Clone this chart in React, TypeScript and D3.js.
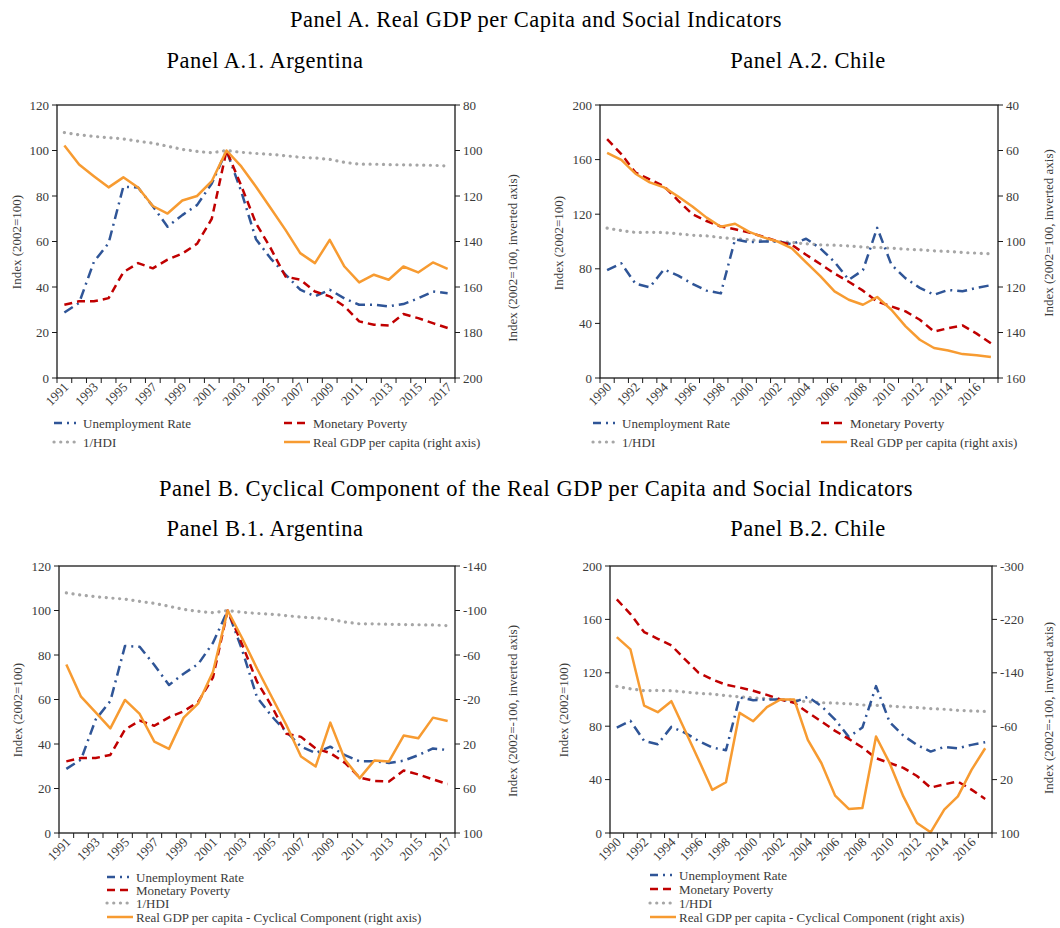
import React from "react";
import * as d3 from "d3";

// ---- data -------------------------------------------------------------
const YEARS_ARG = [
  1991, 1992, 1993, 1994, 1995, 1996, 1997, 1998, 1999, 2000, 2001, 2002, 2003, 2004,
  2005, 2006, 2007, 2008, 2009, 2010, 2011, 2012, 2013, 2014, 2015, 2016, 2017,
];
const YEARS_CHL = [
  1990, 1991, 1992, 1993, 1994, 1995, 1996, 1997, 1998, 1999, 2000, 2001, 2002, 2003,
  2004, 2005, 2006, 2007, 2008, 2009, 2010, 2011, 2012, 2013, 2014, 2015, 2016, 2017,
];

// Argentina (2002 = 100)
const ARG_UNEMPLOYMENT = [
  28.8, 33, 51, 59.3, 84.1, 83.7, 75.5, 66.5, 71.6, 76, 85.5, 100, 82, 61, 52.5, 45.5,
  38.8, 35.9, 38.8, 35, 32.2, 32.2, 31.5, 32.5, 35, 38, 37.3,
];
const ARG_POVERTY = [
  32.2, 33.7, 33.7, 35.1, 46.5, 50.5, 48.2, 52, 54.7, 59, 70, 100, 84.5, 68, 57, 44.6,
  43.2, 38, 35.9, 31.5, 24.9, 23.4, 23.1, 28.1, 26.3, 24.1, 22,
];
const ARG_INV_HDI = [
  107.9, 106.9, 106.2, 105.6, 105.1, 104.1, 103.2, 101.9, 100.5, 99.6, 99.0, 100, 99.2,
  98.7, 98.3, 97.7, 97.0, 96.7, 96.1, 94.8, 94.0, 94.0, 93.8, 93.7, 93.6, 93.5, 93.2,
];
const ARG_GDP = [
  97.8, 106.2, 111.3, 116.2, 111.8, 116.3, 124.4, 127.7, 122, 120, 113.5, 100, 107,
  115.9, 125.4, 134.9, 145.1, 149.5, 139.3, 151, 158, 154.6, 156.8, 151, 153.6, 149.2, 152,
];
const ARG_GDP_CYCLE = [
  -51.5, -22.5, -8.5, 5.9, -19.6, -7, 17.8, 24.4, -3.7, -16.6, -45, -100, -74.8, -47.9,
  -22.5, 2.9, 31.3, 40.2, 0.8, 34.2, 50.7, 34.8, 35.7, 12.4, 14.8, -3.7, -0.7,
];

// Chile (2002 = 100)
const CHL_UNEMPLOYMENT = [
  79, 84, 69, 66.5, 79.5, 75, 69, 64, 62, 101.5, 99.5, 100, 100, 98, 102, 95, 85, 72, 79,
  110, 83, 73, 66, 61, 64.5, 63.5, 66, 68,
];
const CHL_POVERTY = [
  175, 164, 150.5, 145.5, 140.5, 130, 120, 115, 111, 109, 106.5, 103.5, 100, 97.5, 90.3,
  83.5, 76.5, 70.5, 64, 56, 52.4, 48.8, 42.7, 34, 36.5, 38.5, 32.5, 25.5,
];
const CHL_INV_HDI = [
  109.8, 108, 106.6, 106.8, 106.6, 105.6, 104.6, 104.1, 102.9, 102, 101.2, 100.7, 100,
  99.3, 98.3, 97.6, 97.3, 96.8, 95.9, 95.6, 95.1, 94.4, 93.9, 93.2, 92.7, 91.9, 91.5, 91,
];
const CHL_GDP = [
  61, 64.1, 70.2, 74, 76.2, 80.2, 84.6, 89.5, 93.5, 92.2, 95.8, 98.2, 100, 103, 109.2,
  115.2, 121.9, 125.6, 127.8, 124.4, 130, 137.3, 143.2, 146.8, 147.9, 149.5, 150, 150.8,
];
const CHL_GDP_CYCLE = [
  -193.5, -175, -91, -81, -97.5, -53.5, -9.5, 35.5, 24, -80, -67.5, -88.5, -100, -100,
  -39.5, -4.5, 44, 64, 62.6, -44.5, -4.6, 45.2, 85, 99, 65.1, 45.2, 5.4, -27,
];

// axis ticks
const TICKS_0_120 = [0, 20, 40, 60, 80, 100, 120];
const TICKS_0_200 = [0, 40, 80, 120, 160, 200];
const TICKS_80_200 = [80, 100, 120, 140, 160, 180, 200];
const TICKS_40_160 = [40, 60, 80, 100, 120, 140, 160];
const TICKS_M140_100 = [-140, -100, -60, -20, 20, 60, 100];
const TICKS_M300_100 = [-300, -220, -140, -60, 20, 100];

// ---- styles -----------------------------------------------------------
const FONT = "'Liberation Serif', 'DejaVu Serif', serif";
const AXIS_TEXT = "#3a3a3a";
const TITLE_SIZE = 22.5;
const TITLE_SPACING = 0.5;

type Key = "unemp" | "pov" | "hdi" | "gdp";
const SERIES_STYLE: Record<
  Key,
  { color: string; dash: string; legendDash: string; cap: string; width: number }
> = {
  unemp: { color: "#2F5597", dash: "10 5 2 5", legendDash: "8 5 2 5 2 20", cap: "butt", width: 2.5 },
  pov: { color: "#C00000", dash: "8 5", legendDash: "8 5 8 20", cap: "butt", width: 2.5 },
  hdi: { color: "#A6A6A6", dash: "0.1 6.6", legendDash: "0.1 6.6", cap: "round", width: 3.2 },
  gdp: { color: "#F79B31", dash: "none", legendDash: "none", cap: "butt", width: 2.5 },
};

interface LegendItem {
  key: Key;
  label: string;
  x: number;
  y: number;
}

interface PanelProps {
  left: number;
  top: number;
  right: number;
  bottom: number;
  years: number[];
  leftDomain: [number, number];
  leftTicks: number[];
  rightDomain: [number, number];
  rightTicks: number[];
  unemp: number[];
  pov: number[];
  hdi: number[];
  gdp: number[];
  leftTitleX: number;
  leftTitleY: number;
  rightTitle: string;
  rightTitleX: number;
  rightTitleY: number;
  legend: LegendItem[];
}

function Panel(p: PanelProps) {
  const x = d3.scaleBand<number>().domain(p.years).range([p.left, p.right]);
  const bw = x.bandwidth();
  const cx = (i: number) => (x(p.years[i]) as number) + bw / 2;
  const yL = d3.scaleLinear().domain(p.leftDomain).range([p.bottom, p.top]);
  // right axis is inverted: its first domain value sits at the top
  const yR = d3.scaleLinear().domain(p.rightDomain).range([p.top, p.bottom]);

  const lineL = d3.line<number>().x((_, i) => cx(i)).y((d) => yL(d));
  const lineR = d3.line<number>().x((_, i) => cx(i)).y((d) => yR(d));

  const paths: { key: Key; d: string }[] = [
    { key: "hdi", d: lineL(p.hdi) as string },
    { key: "unemp", d: lineL(p.unemp) as string },
    { key: "pov", d: lineL(p.pov) as string },
    { key: "gdp", d: lineR(p.gdp) as string },
  ];

  const boundaries = [...p.years.map((yr) => x(yr) as number), p.right];

  return (
    <g>
      {paths.map((s) => {
        const st = SERIES_STYLE[s.key];
        return (
          <path
            key={s.key}
            d={s.d}
            fill="none"
            stroke={st.color}
            strokeWidth={st.width}
            strokeDasharray={st.dash}
            strokeLinecap={st.cap as any}
            strokeLinejoin="round"
          />
        );
      })}
      {/* plot frame */}
      <rect
        x={p.left}
        y={p.top}
        width={p.right - p.left}
        height={p.bottom - p.top}
        fill="none"
        stroke="#1a1a1a"
        strokeWidth={1.3}
      />
      {/* x ticks at category boundaries */}
      {boundaries.map((bx, i) => (
        <line key={"xt" + i} x1={bx} x2={bx} y1={p.bottom} y2={p.bottom + 5} stroke="#1a1a1a" strokeWidth={1} />
      ))}
      {p.years.map((yr, i) =>
        i % 2 === 0 ? (
          <text
            key={"xl" + yr}
            transform={`translate(${cx(i) + 5},${p.bottom + 10}) rotate(-45)`}
            textAnchor="end"
            fontSize={13}
            fill={AXIS_TEXT}
          >
            {yr}
          </text>
        ) : null
      )}
      {/* left axis */}
      {p.leftTicks.map((t) => (
        <g key={"yl" + t}>
          <line x1={p.left - 5} x2={p.left} y1={yL(t)} y2={yL(t)} stroke="#1a1a1a" strokeWidth={1} />
          <text x={p.left - 8} y={yL(t)} dy="0.35em" textAnchor="end" fontSize={13} fill={AXIS_TEXT}>
            {t}
          </text>
        </g>
      ))}
      {/* right axis */}
      {p.rightTicks.map((t) => (
        <g key={"yr" + t}>
          <line x1={p.right} x2={p.right + 5} y1={yR(t)} y2={yR(t)} stroke="#1a1a1a" strokeWidth={1} />
          <text x={p.right + 8} y={yR(t)} dy="0.35em" textAnchor="start" fontSize={13} fill={AXIS_TEXT}>
            {t}
          </text>
        </g>
      ))}
      <text
        transform={`translate(${p.leftTitleX},${p.leftTitleY}) rotate(-90)`}
        textAnchor="middle"
        dy="0.35em"
        fontSize={13}
        fill={AXIS_TEXT}
      >
        Index (2002=100)
      </text>
      <text
        transform={`translate(${p.rightTitleX},${p.rightTitleY}) rotate(-90)`}
        textAnchor="middle"
        dy="0.35em"
        fontSize={13}
        fill={AXIS_TEXT}
      >
        {p.rightTitle}
      </text>
      {/* legend */}
      {p.legend.map((it) => {
        const st = SERIES_STYLE[it.key];
        return (
          <g key={"lg" + it.key}>
            <line
              x1={it.x}
              x2={it.x + 26}
              y1={it.y}
              y2={it.y}
              stroke={st.color}
              strokeWidth={st.width}
              strokeDasharray={st.legendDash}
              strokeLinecap={st.cap as any}
            />
            <text x={it.x + 29} y={it.y} dy="0.35em" fontSize={13} fill={AXIS_TEXT}>
              {it.label}
            </text>
          </g>
        );
      })}
    </g>
  );
}

const LABEL_UNEMP = "Unemployment Rate";
const LABEL_POV = "Monetary Poverty";
const LABEL_HDI = "1/HDI";
const LABEL_GDP = "Real GDP per capita (right axis)";
const LABEL_GDP_CYCLE = "Real GDP per capita - Cyclical Component (right axis)";

function Title({ x, y, children }: { x: number; y: number; children: React.ReactNode }) {
  return (
    <text
      x={x}
      y={y}
      dy="0.35em"
      textAnchor="middle"
      fontSize={TITLE_SIZE}
      letterSpacing={TITLE_SPACING}
      fill="#000"
    >
      {children}
    </text>
  );
}

export default function App() {
  return (
    <svg
      width={1060}
      height={928}
      viewBox="0 0 1060 928"
      style={{ position: "absolute", left: 0, top: 0, background: "#fff" }}
      fontFamily={FONT}
    >
      <rect x={0} y={0} width={1060} height={928} fill="#fff" />
      <Title x={536} y={19}>Panel A. Real GDP per Capita and Social Indicators</Title>
      <Title x={265} y={60}>Panel A.1. Argentina</Title>
      <Title x={808} y={60}>Panel A.2. Chile</Title>
      <Title x={536} y={488}>
        Panel B. Cyclical Component of the Real GDP per Capita and Social Indicators
      </Title>
      <Title x={265} y={528}>Panel B.1. Argentina</Title>
      <Title x={808} y={528}>Panel B.2. Chile</Title>

      <Panel
        left={57}
        top={105}
        right={455}
        bottom={378}
        years={YEARS_ARG}
        leftDomain={[0, 120]}
        leftTicks={TICKS_0_120}
        rightDomain={[80, 200]}
        rightTicks={TICKS_80_200}
        unemp={ARG_UNEMPLOYMENT}
        pov={ARG_POVERTY}
        hdi={ARG_INV_HDI}
        gdp={ARG_GDP}
        leftTitleX={16}
        leftTitleY={242}
        rightTitle="Index (2002=100, inverted axis)"
        rightTitleX={512}
        rightTitleY={258}
        legend={[
          { key: "unemp", label: LABEL_UNEMP, x: 54, y: 423 },
          { key: "pov", label: LABEL_POV, x: 284, y: 423 },
          { key: "hdi", label: LABEL_HDI, x: 54, y: 442 },
          { key: "gdp", label: LABEL_GDP, x: 284, y: 442 },
        ]}
      />
      <Panel
        left={600}
        top={105}
        right={998}
        bottom={378}
        years={YEARS_CHL}
        leftDomain={[0, 200]}
        leftTicks={TICKS_0_200}
        rightDomain={[40, 160]}
        rightTicks={TICKS_40_160}
        unemp={CHL_UNEMPLOYMENT}
        pov={CHL_POVERTY}
        hdi={CHL_INV_HDI}
        gdp={CHL_GDP}
        leftTitleX={558}
        leftTitleY={243}
        rightTitle="Index (2002=100, inverted axis)"
        rightTitleX={1048}
        rightTitleY={233}
        legend={[
          { key: "unemp", label: LABEL_UNEMP, x: 593, y: 423 },
          { key: "pov", label: LABEL_POV, x: 821, y: 423 },
          { key: "hdi", label: LABEL_HDI, x: 593, y: 442 },
          { key: "gdp", label: LABEL_GDP, x: 821, y: 442 },
        ]}
      />
      <Panel
        left={59}
        top={566}
        right={455}
        bottom={833}
        years={YEARS_ARG}
        leftDomain={[0, 120]}
        leftTicks={TICKS_0_120}
        rightDomain={[-140, 100]}
        rightTicks={TICKS_M140_100}
        unemp={ARG_UNEMPLOYMENT}
        pov={ARG_POVERTY}
        hdi={ARG_INV_HDI}
        gdp={ARG_GDP_CYCLE}
        leftTitleX={17}
        leftTitleY={710}
        rightTitle="Index (2002=-100, inverted axis)"
        rightTitleX={512}
        rightTitleY={711}
        legend={[
          { key: "unemp", label: LABEL_UNEMP, x: 107, y: 877 },
          { key: "pov", label: LABEL_POV, x: 107, y: 890 },
          { key: "hdi", label: LABEL_HDI, x: 107, y: 903 },
          { key: "gdp", label: LABEL_GDP_CYCLE, x: 107, y: 917 },
        ]}
      />
      <Panel
        left={610}
        top={566}
        right={992}
        bottom={833}
        years={YEARS_CHL}
        leftDomain={[0, 200]}
        leftTicks={TICKS_0_200}
        rightDomain={[-300, 100]}
        rightTicks={TICKS_M300_100}
        unemp={CHL_UNEMPLOYMENT}
        pov={CHL_POVERTY}
        hdi={CHL_INV_HDI}
        gdp={CHL_GDP_CYCLE}
        leftTitleX={563}
        leftTitleY={710}
        rightTitle="Index (2002=-100, inverted axis)"
        rightTitleX={1048}
        rightTitleY={708}
        legend={[
          { key: "unemp", label: LABEL_UNEMP, x: 650, y: 875 },
          { key: "pov", label: LABEL_POV, x: 650, y: 889 },
          { key: "hdi", label: LABEL_HDI, x: 650, y: 903 },
          { key: "gdp", label: LABEL_GDP_CYCLE, x: 650, y: 917 },
        ]}
      />
    </svg>
  );
}
